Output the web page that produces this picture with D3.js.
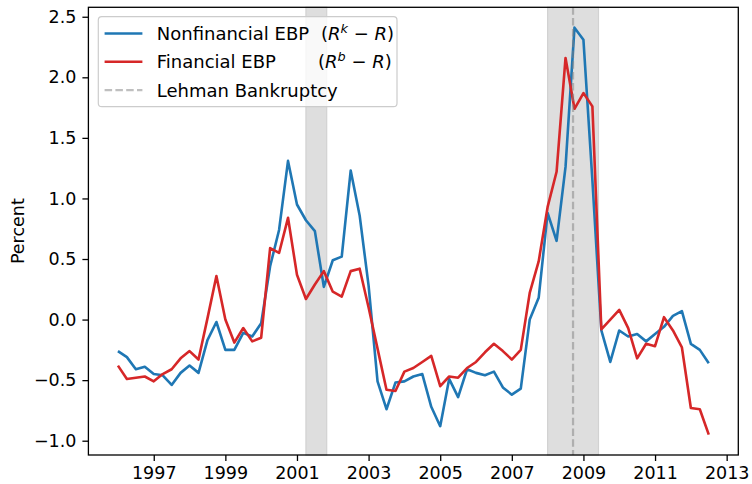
<!DOCTYPE html>
<html>
<head>
<meta charset="utf-8">
<script src="https://cdn.jsdelivr.net/npm/d3@7"></script>
<style>
  body { margin: 0; background: #fff; }
  svg { display: block; font-family: "DejaVu Sans", sans-serif; }
</style>
</head>
<body>
<div id="chart"></div>
<script>
// quarterly observations, 1996Q1 - 2012Q3
var quarters = [
    '1996Q1','1996Q2','1996Q3','1996Q4','1997Q1','1997Q2','1997Q3','1997Q4',
    '1998Q1','1998Q2','1998Q3','1998Q4','1999Q1','1999Q2','1999Q3','1999Q4',
    '2000Q1','2000Q2','2000Q3','2000Q4','2001Q1','2001Q2','2001Q3','2001Q4',
    '2002Q1','2002Q2','2002Q3','2002Q4','2003Q1','2003Q2','2003Q3','2003Q4',
    '2004Q1','2004Q2','2004Q3','2004Q4','2005Q1','2005Q2','2005Q3','2005Q4',
    '2006Q1','2006Q2','2006Q3','2006Q4','2007Q1','2007Q2','2007Q3','2007Q4',
    '2008Q1','2008Q2','2008Q3','2008Q4','2009Q1','2009Q2','2009Q3','2009Q4',
    '2010Q1','2010Q2','2010Q3','2010Q4','2011Q1','2011Q2','2011Q3','2011Q4',
    '2012Q1','2012Q2','2012Q3'
];

var nonfinancialEBP = [
    -0.26, -0.31, -0.41, -0.39, -0.45, -0.46, -0.54, -0.44,
    -0.38, -0.44, -0.17, -0.02, -0.25, -0.25, -0.11, -0.14,
    -0.03, 0.44, 0.74, 1.31, 0.95, 0.82, 0.73, 0.27,
    0.49, 0.52, 1.23, 0.86, 0.28, -0.51, -0.74, -0.52,
    -0.51, -0.47, -0.45, -0.72, -0.88, -0.49, -0.64, -0.41,
    -0.44, -0.46, -0.43, -0.56, -0.62, -0.57, 0.00, 0.18,
    0.88, 0.65, 1.26, 2.41, 2.31, 1.15, -0.09, -0.35,
    -0.09, -0.14, -0.12, -0.18, -0.12, -0.06, 0.03, 0.07,
    -0.20, -0.25, -0.36
];

var financialEBP = [
    -0.38, -0.49, -0.48, -0.47, -0.51, -0.45, -0.41, -0.32,
    -0.26, -0.33, 0.01, 0.36, 0.00, -0.19, -0.07, -0.18,
    -0.15, 0.59, 0.55, 0.84, 0.37, 0.17, 0.29, 0.40,
    0.23, 0.19, 0.40, 0.42, 0.10, -0.24, -0.58, -0.59,
    -0.43, -0.40, -0.35, -0.30, -0.55, -0.47, -0.48, -0.40,
    -0.35, -0.27, -0.20, -0.26, -0.33, -0.25, 0.22, 0.48,
    0.93, 1.22, 2.16, 1.74, 1.87, 1.76, -0.08, 0.00,
    0.08, -0.07, -0.32, -0.20, -0.22, 0.02, -0.09, -0.23,
    -0.73, -0.74, -0.95
];

var recessions = [[2001.25, 2001.83], [2008.0, 2009.42]];
var lehmanDate = 2008.71;

var xTickValues = [1997, 1999, 2001, 2003, 2005, 2007, 2009, 2011, 2013];
var yTickValues = [-1.0, -0.5, 0.0, 0.5, 1.0, 1.5, 2.0, 2.5];

var blue = '#1f77b4';
var red = '#d62728';

function quarterToYear(q) {
    return +q.slice(0, 4) + (+q.slice(5) - 1) / 4;
}

var dates = quarters.map(quarterToYear);
var seriesNonfin = dates.map((t, i) => ({ t: t, v: nonfinancialEBP[i] }));
var seriesFin = dates.map((t, i) => ({ t: t, v: financialEBP[i] }));

var width = 752, height = 484;
var plot = { left: 88.4, right: 738.3, top: 7.3, bottom: 455 };

var svg = d3.select('#chart')
    .append('svg')
    .attr('width', width)
    .attr('height', height);

// matplotlib style 5% margins
var xExt = d3.extent(dates);
var xPad = (xExt[1] - xExt[0]) * 0.05;
var allVals = nonfinancialEBP.concat(financialEBP);
var yExt = d3.extent(allVals);
var yPad = (yExt[1] - yExt[0]) * 0.05;

var xScale = d3.scaleLinear()
    .domain([xExt[0] - xPad, xExt[1] + xPad])
    .range([plot.left, plot.right]);

var yScale = d3.scaleLinear()
    .domain([yExt[0] - yPad, yExt[1] + yPad])
    .range([plot.bottom, plot.top]);

// recession shading
svg.append('g')
    .selectAll('rect')
    .data(recessions)
    .join('rect')
    .attr('x', d => xScale(d[0]))
    .attr('y', plot.top)
    .attr('width', d => xScale(d[1]) - xScale(d[0]))
    .attr('height', plot.bottom - plot.top)
    .attr('fill', '#dedede')
    .attr('stroke', '#d2d2d2')
    .attr('stroke-width', 1.2);

var line = d3.line()
    .x(d => xScale(d.t))
    .y(d => yScale(d.v));

svg.append('path')
    .datum(seriesNonfin)
    .attr('fill', 'none')
    .attr('stroke', blue)
    .attr('stroke-width', 2.6)
    .attr('stroke-linejoin', 'round')
    .attr('d', line);

svg.append('path')
    .datum(seriesFin)
    .attr('fill', 'none')
    .attr('stroke', red)
    .attr('stroke-width', 2.6)
    .attr('stroke-linejoin', 'round')
    .attr('d', line);

svg.append('line')
    .attr('x1', xScale(lehmanDate))
    .attr('x2', xScale(lehmanDate))
    .attr('y1', plot.top)
    .attr('y2', plot.bottom)
    .attr('stroke', 'gray')
    .attr('stroke-opacity', 0.5)
    .attr('stroke-width', 2.2)
    .attr('stroke-dasharray', '7.5,3.3');

// axes
var xAxis = d3.axisBottom(xScale)
    .tickValues(xTickValues)
    .tickFormat(d3.format('d'))
    .tickSizeInner(6)
    .tickSizeOuter(0)
    .tickPadding(6);

var yAxis = d3.axisLeft(yScale)
    .tickValues(yTickValues)
    .tickFormat(d3.format('.1f'))
    .tickSizeInner(6)
    .tickSizeOuter(0)
    .tickPadding(6);

svg.append('g')
    .attr('transform', 'translate(0,' + plot.bottom + ')')
    .call(xAxis);

svg.append('g')
    .attr('transform', 'translate(' + plot.left + ',0)')
    .call(yAxis);

svg.selectAll('.domain').remove();
svg.selectAll('.tick line')
    .attr('stroke', '#000')
    .attr('stroke-width', 1.3);
svg.selectAll('.tick text')
    .attr('fill', '#000')
    .style('font-family', '"DejaVu Sans", sans-serif')
    .style('font-size', '17.5px');

// frame
svg.append('rect')
    .attr('x', plot.left)
    .attr('y', plot.top)
    .attr('width', plot.right - plot.left)
    .attr('height', plot.bottom - plot.top)
    .attr('fill', 'none')
    .attr('stroke', '#000')
    .attr('stroke-width', 1.3);

svg.append('text')
    .attr('transform', 'translate(24,' + ((plot.top + plot.bottom) / 2) + ') rotate(-90)')
    .attr('text-anchor', 'middle')
    .style('font-size', '17.5px')
    .attr('fill', '#000')
    .text('Percent');

// legend
var legendItems = [
    { label: 'Nonfinancial EBP', sup: 'k', mathX: 321, color: blue, dash: null, width: 2.6, opacity: 1 },
    { label: 'Financial EBP', sup: 'b', mathX: 318, color: red, dash: null, width: 2.6, opacity: 1 },
    { label: 'Lehman Bankruptcy', sup: null, mathX: 0, color: 'gray', dash: '7.5,3.3', width: 2.2, opacity: 0.5 }
];

var legend = svg.append('g');

legend.append('rect')
    .attr('x', 98.3)
    .attr('y', 16.7)
    .attr('width', 298.7)
    .attr('height', 90)
    .attr('rx', 3.5)
    .attr('fill', '#fff')
    .attr('fill-opacity', 0.8)
    .attr('stroke', '#cccccc')
    .attr('stroke-width', 1.2);

var rows = legend.selectAll('g.item')
    .data(legendItems)
    .join('g')
    .attr('class', 'item')
    .attr('transform', (d, i) => 'translate(0,' + (33.5 + i * 28.3) + ')');

rows.append('line')
    .attr('x1', 104.6)
    .attr('x2', 142.4)
    .attr('stroke', d => d.color)
    .attr('stroke-opacity', d => d.opacity)
    .attr('stroke-width', d => d.width)
    .attr('stroke-dasharray', d => d.dash);

rows.append('text')
    .attr('x', 156.8)
    .attr('y', 6.4)
    .style('font-size', '18px')
    .attr('fill', '#000')
    .text(d => d.label);

var math = rows.filter(d => d.sup)
    .append('text')
    .attr('x', d => d.mathX)
    .attr('y', 6.4)
    .style('font-size', '18px')
    .attr('fill', '#000');

math.append('tspan').text('(');
math.append('tspan').style('font-style', 'italic').text('R');
math.append('tspan')
    .style('font-style', 'italic')
    .style('font-size', '12.8px')
    .attr('dy', -7.2)
    .text(d => d.sup);
math.append('tspan').attr('dy', 7.2).text(' \u2212 ');
math.append('tspan').style('font-style', 'italic').text('R');
math.append('tspan').text(')');
</script>
</body>
</html>
